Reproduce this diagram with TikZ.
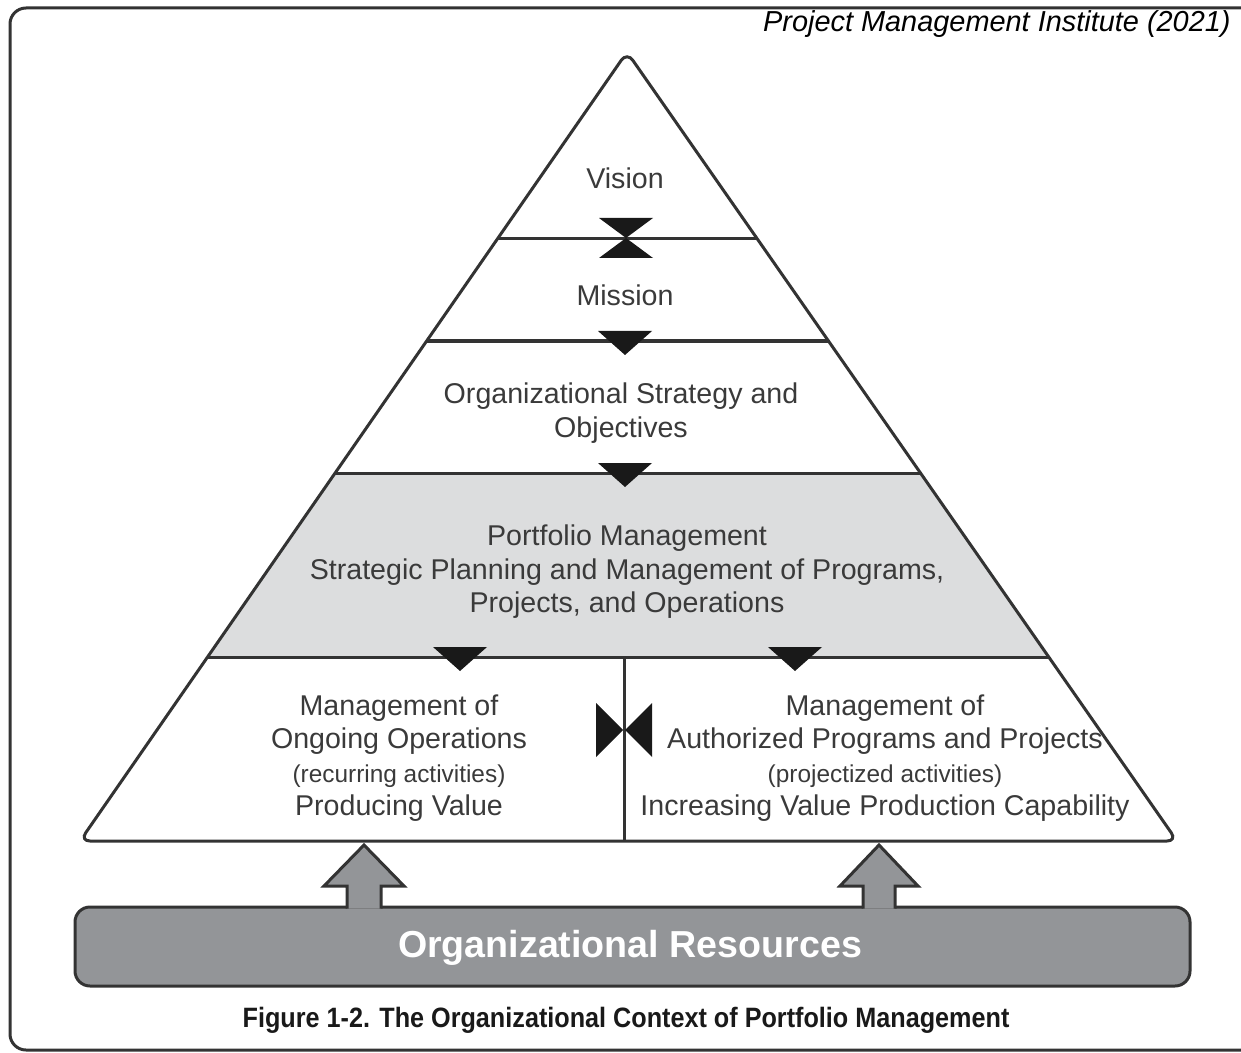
\documentclass[tikz,border=0pt]{standalone}
\usepackage{xcolor}
\usepackage{fontspec}
\setmainfont{Liberation Sans}
\newfontfamily\captionfont[FakeStretch=0.9]{Liberation Sans}
\usepackage{tikz}
\usetikzlibrary{calc, positioning}
\definecolor{lineGray}{HTML}{333333}
\definecolor{bandGray}{HTML}{DCDDDE}
\definecolor{barGray}{HTML}{939598}
\definecolor{textGray}{HTML}{3A3A3A}
\def\baseY{841}
\def\apexY{52}
\def\tipW{27}
\def\noteSize{\fontsize{12.2}{16.5}\selectfont}

\tikzset{
    pyrLine/.style={draw=lineGray, line width=1.5pt},
    tipMark/.style={fill=black!90, draw=none},
    tierText/.style={text=textGray, align=center, inner sep=0pt, font=\fontsize{14.3}{16.75}\selectfont},
}

\begin{document}
\begin{tikzpicture}[x=0.5pt, y=-0.5pt]
    \useasboundingbox (0,0) rectangle (1241,1053);

    % Draw outer frame
    \begin{scope}
        \clip (0,0) rectangle (1241,1053);
        \draw[pyrLine, rounded corners=8pt] (10,8) rectangle (1300,1050);
    \end{scope}

    \node[anchor=base east, inner sep=0pt, font=\fontsize{14.45}{16}\selectfont\itshape] (source) at (1231,32) {Project Management Institute (2021)};

    % Draw pyramid
    \coordinate (apex) at (627,\apexY);
    \coordinate (baseL) at (80,\baseY);
    \coordinate (baseR) at (1177,\baseY);

    \pgfmathsetmacro{\tTop}{(\baseY - 473) / (\baseY - \apexY)}
    \pgfmathsetmacro{\tBot}{(\baseY - 657) / (\baseY - \apexY)}
    \fill[bandGray] ($(baseL)!\tBot!(apex)$) -- ($(baseL)!\tTop!(apex)$) -- ($(baseR)!\tTop!(apex)$) -- ($(baseR)!\tBot!(apex)$) -- cycle;

    \draw[pyrLine, rounded corners=5pt] (baseL) -- (apex) -- (baseR) -- cycle;

    \foreach \y in {238, 341, 473, 657} {
        \pgfmathsetmacro{\t}{(\baseY - \y) / (\baseY - \apexY)}
        \draw[pyrLine] ($(baseL)!\t!(apex)$) -- ($(baseR)!\t!(apex)$);
    }
    \draw[pyrLine] (624,657) -- (624,\baseY);

    % Draw tips
    \foreach \x/\y in {625/341, 625/473, 460/657, 795/657} {
        \fill[tipMark] (\x - \tipW, \y - 10) -- (\x + \tipW, \y - 10) -- (\x, \y + 14) -- cycle;
    }
    \fill[tipMark] (626 - \tipW, 218) -- (626 + \tipW, 218) -- (626, 238) -- cycle;
    \fill[tipMark] (626 - \tipW, 258) -- (626 + \tipW, 258) -- (626, 238) -- cycle;
    \fill[tipMark] (596, 703) -- (596, 757) -- (623, 730) -- cycle;
    \fill[tipMark] (652, 703) -- (652, 757) -- (625, 730) -- cycle;

    % Draw labels
    \node[tierText] (vision) at (625,178) {Vision};
    \node[tierText] (mission) at (625,295) {Mission};
    \node[tierText] (strategy) at (621,413) {Organizational Strategy and\\Objectives};
    \node[tierText] (portfolio) at (627,572) {Portfolio Management\\Strategic Planning and Management of Programs,\\Projects, and Operations};
    \node[tierText] (operations) at (399,758) {Management of\\Ongoing Operations\\{\noteSize(recurring activities)}\\Producing Value};
    \node[tierText] (programs) at (885,758) {Management of\\Authorized Programs and Projects\\{\noteSize(projectized activities)}\\Increasing Value Production Capability};

    % Draw resources bar
    \draw[fill=barGray, draw=lineGray, line width=1.5pt, rounded corners=7.5pt] (75,907) rectangle (1190,986);
    \foreach \x/\s/\h in {364/17/40, 879/16/39} {
        \filldraw[fill=barGray, draw=lineGray, line width=1.5pt] (\x - \s, 908.5) -- (\x - \s, 886) -- (\x - \h, 886) -- (\x, 845) -- (\x + \h, 886) -- (\x + \s, 886) -- (\x + \s, 908.5);
    }
    \node[text=white, inner sep=0pt, font=\fontsize{18.8}{20}\selectfont\bfseries] (resources) at (630,948) {Organizational Resources};

    \node[text=black!90, inner sep=0pt, font=\fontsize{14}{16}\selectfont\captionfont\bfseries] (caption) at (626,1020) {Figure 1-2. The Organizational Context of Portfolio Management};
\end{tikzpicture}
\end{document}
